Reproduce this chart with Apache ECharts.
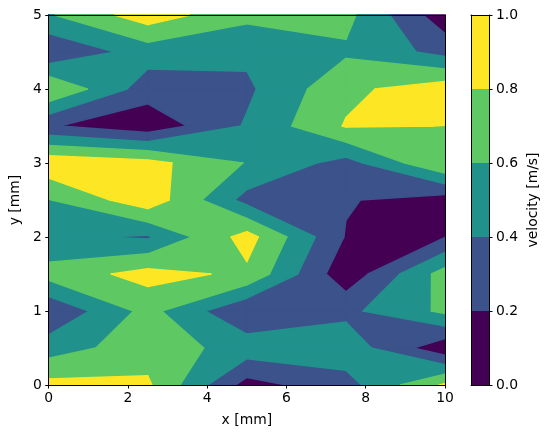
<!DOCTYPE html>
<html>
<head>
<meta charset="utf-8">
<script src="https://cdn.jsdelivr.net/npm/echarts@6/dist/echarts.min.js"></script>
<style>
  html, body { margin: 0; padding: 0; background: #fff; }
  #chart { width: 549px; height: 438px; }
</style>
</head>
<body>
<div id="chart"></div>
<script>
// grid nodes
const xs = [0, 2.5, 5, 7.5, 10];
const ys = [0, 0.5, 1, 1.5, 2, 2.5, 3, 3.5, 4, 4.5, 5];
// velocity at the nodes, one row per y (bottom to top)
const z = [
  [0.86, 0.83, 0.12, 0.32, 0.83],
  [0.50, 0.71, 0.515, 0.52, 0.05],
  [0.22, 0.664, 0.21, 0.35, 0.64],
  [0.68, 0.87, 0.76, 0.06, 0.685],
  [0.43, 0.375, 0.88, 0.186, 0.195],
  [0.59, 0.93, 0.326, 0.217, 0.10],
  [0.943, 0.868, 0.589, 0.32, 0.79],
  [0.218, 0.058, 0.422, 0.815, 0.798],
  [0.795, 0.295, 0.363, 0.75, 0.92],
  [0.22, 0.49, 0.44, 0.569, 0.33],
  [0.58, 0.91, 0.65, 0.66, 0.07]
];
const levels = [0, 0.2, 0.4, 0.6, 0.8, 1.0];
const colors = ['#440154', '#3b528b', '#21918c', '#5ec962', '#fde725'];

const font = 'DejaVu Sans';
const fs = 13.9;

// part of one grid cell where value >= L (straight edges, like contourf)
function regionAbove(c, L) {
  const hi = c.map(p => p[2] >= L);
  const cross = (a, b) => {
    const t = (L - a[2]) / (b[2] - a[2]);
    return [a[0] + t * (b[0] - a[0]), a[1] + t * (b[1] - a[1])];
  };
  const saddle = hi[0] === hi[2] && hi[1] === hi[3] && hi[0] !== hi[1];
  const mid = (c[0][2] + c[1][2] + c[2][2] + c[3][2]) / 4;
  if (saddle && mid < L) {
    const out = [];
    for (let k = 0; k < 4; k++) {
      if (!hi[k]) continue;
      const prev = c[(k + 3) % 4], next = c[(k + 1) % 4];
      out.push([cross(prev, c[k]), [c[k][0], c[k][1]], cross(c[k], next)]);
    }
    return out;
  }
  const pts = [];
  for (let k = 0; k < 4; k++) {
    const a = c[k], b = c[(k + 1) % 4];
    if (hi[k]) pts.push([a[0], a[1]]);
    if (hi[k] !== hi[(k + 1) % 4]) pts.push(cross(a, b));
  }
  return pts.length >= 3 ? [pts] : [];
}

const cells = [];
for (let k = 0; k < colors.length; k++)
  for (let j = 0; j < ys.length - 1; j++)
    for (let i = 0; i < xs.length - 1; i++)
      cells.push([i, j, k]);

const bands = colors.map((c, k) => [levels[k], levels[k + 1], k]);

function renderCell(params, api) {
  const i = api.value(0), j = api.value(1), k = api.value(2);
  const corners = [
    [xs[i], ys[j], z[j][i]],
    [xs[i + 1], ys[j], z[j][i + 1]],
    [xs[i + 1], ys[j + 1], z[j + 1][i + 1]],
    [xs[i], ys[j + 1], z[j + 1][i]]
  ];
  const polys = regionAbove(corners, levels[k]);
  return {
    type: 'group',
    children: polys.map(p => ({
      type: 'polygon',
      shape: { points: p.map(q => api.coord(q)) },
      style: { fill: colors[k], stroke: colors[k], lineWidth: 1.4, lineJoin: 'round' }
    }))
  };
}

function renderBand(params, api) {
  const p0 = api.coord([0, api.value(0)]);
  const p1 = api.coord([1, api.value(1)]);
  return {
    type: 'rect',
    shape: { x: p0[0], y: p1[1], width: p1[0] - p0[0], height: p0[1] - p1[1] },
    style: { fill: colors[api.value(2)] }
  };
}

const line = { show: true, onZero: false, lineStyle: { color: '#000', width: 1 } };
const label = { color: '#000', fontSize: fs, fontFamily: font };
const nameStyle = { color: '#000', fontSize: fs, fontFamily: font };
const frame = (extra) => Object.assign({
  type: 'value', z: 10, axisLine: line, axisTick: { show: false },
  axisLabel: { show: false }, splitLine: { show: false }
}, extra);

const chart = echarts.init(document.getElementById('chart'), null, { renderer: 'canvas' });
chart.setOption({
  animation: false,
  backgroundColor: '#fff',
  grid: [
    { left: 48, top: 15, width: 397, height: 370 },
    { left: 471, top: 15, width: 18, height: 370 }
  ],
  xAxis: [
    {
      type: 'value', gridIndex: 0, min: 0, max: 10, interval: 2, z: 10,
      axisLine: line,
      axisTick: { show: true, length: 3.5, lineStyle: { color: '#000' } },
      axisLabel: Object.assign({ margin: 6 }, label),
      splitLine: { show: false },
      name: 'x [mm]', nameLocation: 'middle', nameGap: 28, nameTextStyle: nameStyle
    },
    frame({ gridIndex: 0, min: 0, max: 10, position: 'top' }),
    frame({ gridIndex: 1, min: 0, max: 1, position: 'bottom' }),
    frame({ gridIndex: 1, min: 0, max: 1, position: 'top' })
  ],
  yAxis: [
    {
      type: 'value', gridIndex: 0, min: 0, max: 5, interval: 1, z: 10,
      axisLine: line,
      axisTick: { show: true, length: 3.5, lineStyle: { color: '#000' } },
      axisLabel: Object.assign({ margin: 7 }, label),
      splitLine: { show: false },
      name: 'y [mm]', nameLocation: 'middle', nameGap: 25, nameTextStyle: nameStyle
    },
    frame({ gridIndex: 0, min: 0, max: 5, position: 'right' }),
    {
      type: 'value', gridIndex: 1, min: 0, max: 1, interval: 0.2, position: 'right', z: 10,
      axisLine: line,
      axisTick: { show: true, length: 3.5, lineStyle: { color: '#000' } },
      axisLabel: Object.assign({ margin: 7, formatter: v => v.toFixed(1) }, label),
      splitLine: { show: false },
      name: 'velocity [m/s]', nameLocation: 'middle', nameGap: 37, nameRotate: 90,
      nameTextStyle: nameStyle
    },
    frame({ gridIndex: 1, min: 0, max: 1, position: 'left' })
  ],
  series: [
    {
      type: 'custom', xAxisIndex: 0, yAxisIndex: 0, silent: true,
      renderItem: renderCell, data: cells, encode: { x: 0, y: 1 }
    },
    {
      type: 'custom', xAxisIndex: 2, yAxisIndex: 2, silent: true,
      renderItem: renderBand, data: bands, encode: { x: -1, y: [0, 1] }
    }
  ]
});
</script>
</body>
</html>
